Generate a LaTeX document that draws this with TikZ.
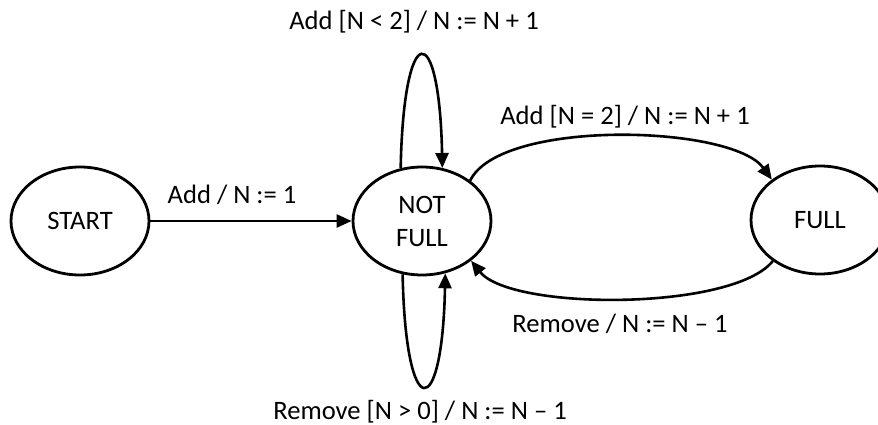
\documentclass[tikz,border=0pt]{standalone}
\usepackage{fontspec}
\setmainfont{Carlito}
\usetikzlibrary{shapes.geometric,arrows.meta}
\tikzset{
  state/.style={ellipse,draw=black,line width=2.8pt,minimum width=138pt,minimum height=108pt,inner sep=0pt,align=center},
  arr/.style={line width=2.6pt,-{Triangle[length=15pt,width=13pt]}},
  lbl/.style={anchor=base,inner sep=0pt}
}
\begin{document}
\begin{tikzpicture}[x=1pt,y=-1pt,font=\fontsize{26.6}{33}\selectfont]
\useasboundingbox (0,0) rectangle (878,425);
\node[state] (start) at (80,221) {START};
\node[state] (nf) at (422,221) {NOT\\FULL};
\node[state] (full) at (820,220) {FULL};
\draw[arr] (start) -- (nf);
\draw[arr] (nf.112) .. controls +(3,-150) and +(-3,-150) .. (nf.69);
\draw[arr] (nf.-110) .. controls +(3,150) and +(-3,150) .. (nf.-66);
\draw[arr] (nf.40) .. controls +(30,-62) and +(-40,-55) .. (full.140);
\draw[arr] (full.-139) .. controls +(-40,50) and +(40,50) .. (nf.-39);
\node[lbl] (l1) at (414,30) {Add [N < 2] / N := N + 1};
\node[lbl] (l2) at (232,203) {Add / N := 1};
\node[lbl] (l3) at (625,125) {Add [N = 2] / N := N + 1};
\node[lbl] (l4) at (620,332) {Remove / N := N – 1};
\node[lbl] (l5) at (420,419) {Remove [N > 0] / N := N – 1};
\end{tikzpicture}
\end{document}
